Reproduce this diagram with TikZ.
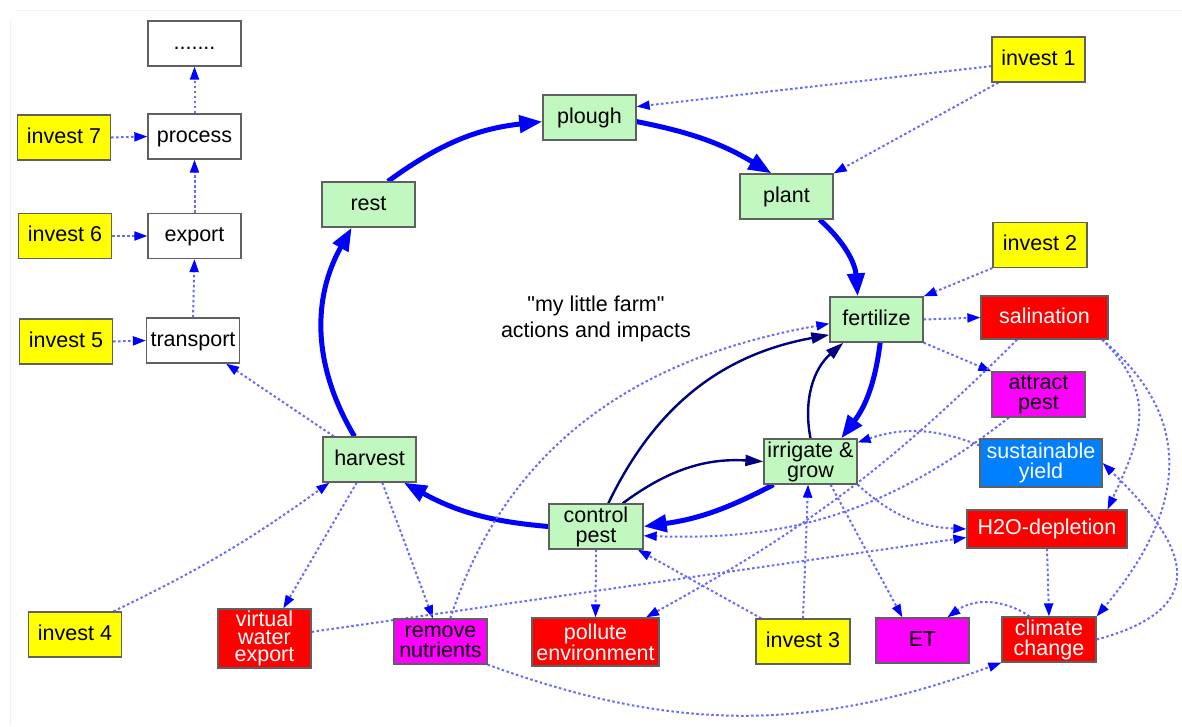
\documentclass[tikz,border=0pt]{standalone}
\usepackage{fontspec}
\setmainfont{Liberation Sans}
\newfontfamily\titlefont{Liberation Sans}
\usetikzlibrary{arrows.meta}
\definecolor{leaf}{RGB}{192,248,192}
\definecolor{edgegray}{RGB}{96,96,96}
\definecolor{dotblue}{RGB}{105,105,255}
\definecolor{navyline}{RGB}{0,0,128}
\definecolor{skyblue}{RGB}{0,128,255}
\definecolor{pinkish}{RGB}{255,0,255}
\definecolor{signalred}{RGB}{255,0,0}
\definecolor{signalyellow}{RGB}{255,255,0}
\pgfdeclarelayer{bg}
\pgfsetlayers{bg,main}
\begin{document}
\begin{tikzpicture}[x=1pt,y=1pt,
  nodebox/.style={draw=edgegray, line width=1.3pt, minimum width=93pt, minimum height=45pt,
    inner sep=0pt, align=center, font=\fontsize{21.5}{20}\selectfont,
    text height=15.5pt, text depth=4.5pt},
  twolines/.style={text height=, text depth=},
  act/.style={nodebox, fill=leaf},
  inv/.style={nodebox, fill=signalyellow},
  whitebox/.style={nodebox, fill=white},
  impact/.style={nodebox, fill=signalred, text=white},
  mag/.style={nodebox, fill=pinkish},
  goal/.style={nodebox, fill=skyblue, text=white},
  cyc/.style={line width=5pt, blue, -{Triangle[length=23pt,width=17pt]}},
  nav/.style={line width=2.4pt, navyline, -{Triangle[length=18pt,width=11pt]}},
  dotlink/.style={line width=2pt, dotblue, dash pattern=on 2.5pt off 2.5pt,
    -{Triangle[length=13pt,width=9pt,color=blue]}},
]
\useasboundingbox (0,0) rectangle (1182,-726);
\draw[gray!10, line width=1pt] (15,-10) -- (1182,-10);
\draw[gray!10, line width=1pt] (10,-20) -- (10,-726);

% value chain on the left
\node[whitebox] (more) at (194.5,-43.5) {.......};
\node[whitebox] (process) at (194.5,-136.5) {process};
\node[whitebox] (export) at (194.5,-236) {export};
\node[whitebox] (transport) at (193,-340.5) {transport};
\node[inv] (inv7) at (64,-137.5) {invest 7};
\node[inv] (inv6) at (65,-236) {invest 6};
\node[inv] (inv5) at (66,-341.5) {invest 5};
\node[inv] (inv4) at (75,-634.5) {invest 4};

% bottom row
\node[impact, twolines, minimum height=59pt, font=\fontsize{21.5}{17.5}\selectfont] (vwe) at (264.5,-638.5) {virtual\\water\\export};
\node[mag, twolines] (remove) at (440.5,-641.5) {remove\\nutrients};
\node[impact, twolines, minimum width=127pt, minimum height=48pt] (pollute) at (595.5,-642) {pollute\\environment};
\node[inv, minimum width=94pt] (inv3) at (803,-641.5) {invest 3};
\node[mag] (et) at (922.5,-640.5) {ET};
\node[impact, twolines, minimum width=94pt] (climate) at (1049,-639.5) {climate\\change};

% farm actions
\node[act] (harvest) at (369.5,-459.5) {harvest};
\node[act] (rest) at (368.5,-204.5) {rest};
\node[act] (plough) at (589.5,-117.5) {plough};
\node[act] (plant) at (786.5,-196.5) {plant};
\node[act] (fert) at (876.5,-319.5) {fertilize};
\node[act, twolines] (irrigate) at (810.5,-461.5) {irrigate \&\\grow};
\node[act, twolines, minimum width=94pt] (control) at (596,-526.5) {control\\pest};

% right column
\node[inv] (inv1) at (1038.5,-59.5) {invest 1};
\node[inv, minimum width=94pt] (inv2) at (1040,-245) {invest 2};
\node[impact, minimum width=127pt, minimum height=43pt] (salt) at (1044.5,-317.5) {salination};
\node[mag, twolines] (attract) at (1038.5,-394.5) {attract\\pest};
\node[goal, twolines, minimum width=122pt, minimum height=48pt] (yield) at (1041,-463) {sustainable\\yield};
\node[impact, minimum width=160pt, minimum height=38pt] (h2o) at (1047,-529) {H2O-depletion};

\node[font=\titlefont\fontsize{21.5}{26}\selectfont, align=center] (title) at (596,-319) {"my little farm"\\actions and impacts};

\begin{pgfonlayer}{bg}
% crop cycle
\draw[cyc] (rest.50) to[bend left=15] (plough.185);
\draw[cyc] (plough.-5) to[bend left=10] (plant.123);
\draw[cyc] (plant.-35) to[bend left=22] (fert.129);
\draw[cyc] (fert.-81) to[bend left=15] (irrigate.37);
\draw[cyc] (irrigate.212) to[bend left=10] (control.east);
\draw[cyc] (control.west) to[bend left=12] (harvest.-34);
\draw[cyc] (harvest.123) to[bend left=30] (rest.234);

% direct links between actions
\draw[nav] (control.62) to[bend left=27] (fert.198);
\draw[nav] (control.41) to[bend left=20] (irrigate.west);
\draw[nav] (irrigate.north) to[bend left=30] (fert.215);

% investments and impacts
\draw[dotlink] (inv1.188) -- (plough.13);
\draw[dotlink] (inv1.210) -- (plant.north east);
\draw[dotlink] (inv2.south west) -- (fert.north east);
\draw[dotlink] (fert.east) -- (salt.west);
\draw[dotlink] (fert.south east) -- (attract.north west);
\draw[dotlink] (remove.67) to[out=72,in=190] (fert.185);
\draw[dotlink] (harvest.147) -- (transport.-35);
\draw[dotlink] (transport.north) -- (export.south);
\draw[dotlink] (export.north) -- (process.south);
\draw[dotlink] (process.north) -- (more.south);
\draw[dotlink] (inv5.east) -- (transport.west);
\draw[dotlink] (inv6.east) -- (export.west);
\draw[dotlink] (inv7.east) -- (process.west);
\draw[dotlink] (inv4.31) to[bend right=5] (harvest.210);
\draw[dotlink] (harvest.241) -- (vwe.58);
\draw[dotlink] (harvest.-61) -- (remove.108);
\draw[dotlink] (vwe.8) -- (h2o.186);
\draw[dotlink] (irrigate.south east) to[bend right=20] (h2o.west);
\draw[dotlink] (irrigate.-49) -- (et.131);
\draw[dotlink] (inv3.north) -- (irrigate.264);
\draw[dotlink] (inv3.151) -- (control.-29);
\draw[dotlink] (control.south) -- (pollute.north);
\draw[dotlink] (salt.219) to[bend left=8] (pollute.26);
\draw[dotlink] (attract.218) to[bend left=20] (control.-11);
\draw[dotlink] (yield.164) to[bend right=20] (irrigate.22);
\draw[dotlink] (h2o.south) -- (climate.north);
\draw[dotlink] (climate.130) to[bend right=35] (et.43);
\draw[dotlink] (salt.-21) to[out=-45,in=65,looseness=1.2] (h2o.18);
\draw[dotlink] (salt.-21) to[out=-40,in=50,looseness=1.2] (climate.north east);
\draw[dotlink] (climate.east) to[out=15,in=-44,looseness=1.75] (yield.east);
\draw[dotlink] (remove.south east) to[out=-20,in=200] (climate.south west);
\end{pgfonlayer}
\end{tikzpicture}
\end{document}
